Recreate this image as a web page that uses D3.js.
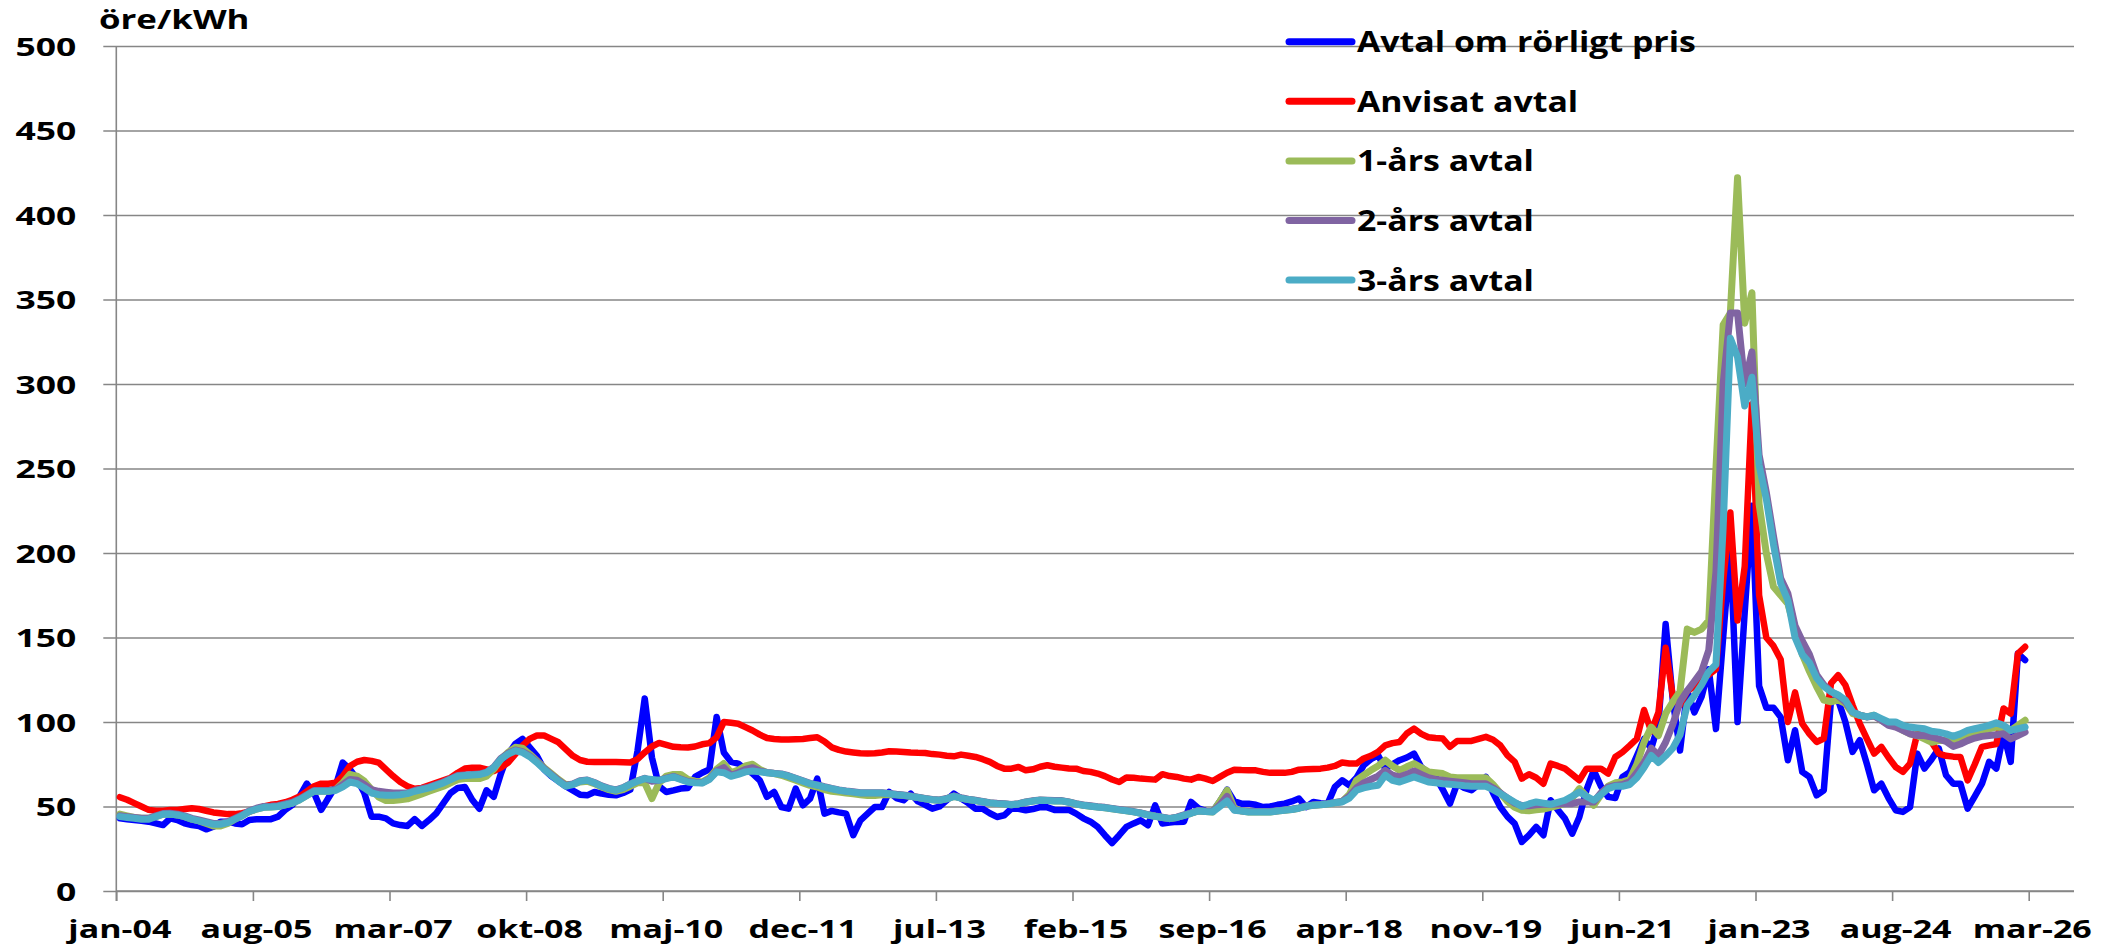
<!DOCTYPE html>
<html>
<head>
<meta charset="utf-8">
<script src="https://cdn.jsdelivr.net/npm/d3@7"></script>
<style>
  html, body { margin: 0; padding: 0; background: #ffffff; }
  svg { display: block; }
  text { font-family: "Open Sans", "DejaVu Sans", sans-serif; font-weight: 700; fill: #000; }
</style>
</head>
<body>
<svg id="chart" width="2114" height="950"></svg>
<script>
// Category tick labels (one every 19 months, starting jan-04)
const tickLabels = ["jan-04", "aug-05", "mar-07", "okt-08", "maj-10", "dec-11", "jul-13",
  "feb-15", "sep-16", "apr-18", "nov-19", "jun-21", "jan-23", "aug-24", "mar-26"];
const tickStep = 19;
const yTicks = [0, 50, 100, 150, 200, 250, 300, 350, 400, 450, 500];

const seriesNames = ["Avtal om rörligt pris", "Anvisat avtal", "1-års avtal", "2-års avtal", "3-års avtal"];
const seriesColors = ["#0000ff", "#ff0000", "#9bbb59", "#8064a2", "#4bacc6"];
const seriesWidths = [6.5, 6.5, 7, 7, 7];

// Monthly prices, öre/kWh, from jan-04 onwards
const rorligt = [
  43, 42.5, 42, 41.5, 41, 40, 39, 43, 42, 40,
  39, 38.5, 36.5, 38, 41, 41, 40, 39.5, 42, 42.5,
  42.5, 42.5, 44, 48, 51, 56, 63.5, 58, 48, 55,
  62, 76, 72, 66, 58, 44, 44, 43, 40, 39,
  38.5, 42.5, 38.5, 42, 46, 52, 58, 61, 61.5, 54,
  48.7, 59.6, 55.7, 69.5, 81, 87, 90, 85, 80, 72,
  68, 65, 62, 59.5, 57, 56.6, 58.6, 57.6, 57, 56.6,
  58, 60, 83, 113.9, 79, 62, 58.6, 59.5, 60.6, 61,
  67.5, 70, 72, 103, 82, 76.4, 75.4, 72, 69.5, 65.5,
  55.7, 58.6, 49.7, 48.7, 60.6, 50.7, 54.7, 66.5, 45.8, 47.4,
  46.5, 45.8, 33, 41.8, 45.8, 49.7, 49.7, 58.6, 55, 53.7,
  57.6, 53, 51, 48.7, 50, 53.7, 57.6, 54.7, 52, 48.7,
  48.7, 46, 43.8, 44.8, 48.7, 48.7, 47.8, 48.5, 49.7, 49.5,
  48, 48, 48, 45.8, 43, 41, 37.9, 33, 28.4, 33,
  37.9, 40, 41.8, 38.9, 50.7, 39.9, 40.5, 40.9, 41, 52.7,
  49, 47.4, 47, 53, 60, 53, 51.7, 51.7, 51, 49.7,
  50, 51, 51.7, 53, 54.7, 49.7, 52.7, 52, 51.7, 61.6,
  65.5, 62.6, 67, 74.4, 78, 80.3, 72.4, 75, 77.4, 79,
  81.3, 73.4, 70, 67.5, 60, 51.7, 63.5, 61, 59.6, 63,
  67.5, 58, 49.7, 44, 39.9, 29, 33, 37.9, 33, 53.7,
  48, 42.8, 33.9, 43.8, 60, 71.4, 62, 55.7, 55, 67.5,
  70.3, 80, 90, 84.5, 98.7, 158, 112.8, 83.1, 118.4, 105.7,
  115, 131.2, 95.8, 150, 203, 100, 165, 228, 121.3, 108.5,
  108.5, 102.9, 77.4, 95.1, 70.5, 67.5, 56.6, 59.6, 112.9, 112.9,
  100, 82.3, 89.2, 75, 59.6, 63.5, 55, 47.8, 46.8, 49.7,
  81.3, 72.4, 78, 84.3, 68.5, 63.5, 63.5, 48.7, 56, 63.5,
  76.4, 72.4, 93.2, 76.4, 140.5, 136.6
];

const anvisat = [
  55.5, 54, 52, 50, 48, 47.5, 47.5, 48, 48, 48.5,
  49, 48.5, 47.5, 46.5, 46, 45.5, 45.5, 46, 47, 48.5,
  50, 51, 51.5, 52.5, 54, 56, 59, 62, 63.5, 63.5,
  64, 68, 74, 76.5, 77.5, 77, 76, 72, 68, 64.5,
  62, 60.5, 61, 62.5, 64, 65.5, 67, 70, 72.5, 73,
  73, 72, 71, 73, 76, 81, 86, 90, 92, 92,
  90, 88, 84, 80, 77.5, 76.5, 76.4, 76.4, 76.4, 76.4,
  76.2, 76, 78, 82, 85.5, 87.6, 86.5, 85.3, 85, 84.9,
  85.5, 86.8, 87.5, 91, 100, 99.5, 99, 97, 95, 92.5,
  90.5, 90, 89.6, 89.6, 89.8, 90, 90.5, 91, 88.5, 85,
  83.5, 82.5, 82, 81.5, 81.3, 81.5, 82, 82.7, 82.5, 82.3,
  82, 81.8, 81.7, 81, 80.7, 80, 79.7, 80.7, 80, 79.3,
  78, 76.4, 74, 72.4, 72.4, 73.4, 71.4, 72, 73.5, 74.4,
  73.5, 73, 72.5, 72.4, 71, 70.5, 69.5, 68, 66, 64.5,
  67.1, 67, 66.5, 66.2, 65.9, 69.1, 68, 67.5, 66.5, 65.9,
  67.5, 66.5, 65.1, 67.5, 70, 71.8, 71.6, 71.5, 71.4, 70.5,
  69.9, 69.9, 69.9, 70.5, 71.8, 72, 72.2, 72.4, 73, 74,
  76, 75.5, 75.4, 78.4, 80, 82.3, 86.2, 87.5, 88.2, 93.2,
  96.1, 93, 91, 90.5, 90.2, 85.3, 88.8, 88.8, 88.8, 90,
  91.2, 89.5, 86.2, 80.3, 76.4, 66.5, 69.1, 67, 63.5, 75.4,
  74, 72.4, 69, 65.5, 72.4, 72.4, 72.4, 69.5, 79.3, 82.2,
  86, 90.1, 107.1, 94.4, 105.7, 143.9, 115, 109.9, 118.4, 121,
  125.5, 128, 131.2, 183.5, 224, 160, 192, 288, 175, 150,
  145, 137, 100, 117.5, 99, 93, 88.2, 90.2, 122.8, 127.7,
  121.8, 110, 99.1, 90, 81.3, 85.3, 79, 73.4, 70.5, 75.4,
  93.2, 94.1, 88, 81.3, 80, 79.5, 79.3, 65.5, 75, 85.3,
  86.2, 87, 108, 105, 140.5, 144.5
];

const ettAr = [
  45.5, 44.5, 43.5, 43, 43, 44, 45.4, 45.5, 45, 44,
  42.5, 41.5, 40, 38.5, 38.5, 40, 42.5, 44.5, 47, 48.5,
  49.5, 49.7, 50, 51, 52, 54, 56.5, 59, 59, 59,
  60, 64, 69, 68, 65, 60, 55.5, 53.5, 53.5, 54,
  54.5, 56, 57.5, 59, 60.5, 62, 64, 66, 66.5, 66.5,
  66.5, 68, 72, 78, 82, 85, 84.5, 81, 77, 73,
  69.5, 66, 63, 63, 64.5, 65, 63.5, 61.5, 60, 59,
  60, 62, 64, 64, 54.7, 64, 68, 69, 69, 66,
  65, 64.5, 67, 72, 75.4, 70, 71.5, 74, 75, 72,
  70, 69.5, 68.5, 67, 65.5, 64, 62.5, 61.5, 60, 59,
  58.5, 58, 57.5, 57, 56.5, 56.5, 57, 57, 57, 56.5,
  56, 55.3, 54.6, 54, 53.7, 54.5, 56, 55, 54.1, 53.5,
  52.8, 52.1, 51.7, 51.5, 51, 51.5, 52.5, 53.2, 53.7, 53.5,
  53.3, 53.3, 52.5, 51.5, 50.7, 50.2, 49.7, 49.3, 48.7, 48,
  47.5, 46.8, 46, 45, 44.2, 43.5, 42.8, 43.5, 44.8, 46,
  47.4, 47, 46.8, 53, 59.6, 49, 47.3, 46.8, 46.8, 46.8,
  46.8, 47.3, 47.8, 48.2, 49, 50.1, 50.7, 51, 51.5, 52.2,
  53, 57, 65.5, 68.5, 71.4, 74, 77.4, 74, 71.4, 73.5,
  75.4, 73, 70.5, 70, 69.5, 67.5, 67, 67, 67, 67,
  67, 63, 58, 53, 49.5, 47.8, 47.5, 48, 48.5, 49.5,
  50.5, 51.7, 55, 60.6, 56, 50.7, 57, 62, 64, 64.5,
  66, 75, 88, 97, 92, 105, 112, 118, 155, 153,
  155, 160, 250, 335, 342, 422, 336, 354, 229, 200,
  180, 175, 170, 155, 140, 130, 121, 113, 112, 113,
  111, 105, 104, 103, 104, 101, 99, 98, 95, 93,
  92, 90, 88, 89, 89, 88, 90, 92, 93.5, 95,
  96, 97, 96.5, 95, 98, 101
];

const tvaAr = [
  44.5, 44, 43.5, 43, 43, 44.5, 45.8, 46, 45.5, 44.5,
  43, 42, 41, 40, 40, 41, 43, 45, 47.5, 49,
  50, 50.2, 50.5, 51.5, 52.5, 54.5, 57, 59.5, 59.5, 59.5,
  60, 63, 66, 65.5, 63, 60, 59, 58.5, 58, 58,
  58, 59.5, 60.5, 61.5, 63, 64.5, 66.5, 68.3, 68.6, 68.9,
  69.2, 70.3, 73.3, 78.5, 81.5, 83.5, 82.5, 80, 76.5, 72.5,
  69, 65.5, 62.5, 63.3, 65.2, 65.7, 64.2, 62.2, 60.7, 59.8,
  61.2, 63.4, 65.2, 66.7, 65, 65.5, 66.8, 67.8, 66.3, 64.8,
  64.3, 64.1, 66.3, 71, 73, 68.5, 70, 72, 73, 71,
  70.2, 69.7, 69.3, 68.2, 66.7, 65.2, 63.7, 62.8, 61.7, 60.7,
  59.8, 59.2, 58.7, 58.2, 58.2, 58.2, 58.2, 57.7, 57.2, 56.8,
  56.2, 55.5, 54.8, 54.2, 53.9, 54.7, 56.2, 55.2, 54.3, 53.7,
  53, 52.3, 51.9, 51.7, 51.2, 51.7, 52.7, 53.4, 53.9, 53.7,
  53.5, 53.5, 52.7, 51.7, 50.9, 50.4, 49.9, 49.5, 48.9, 48.2,
  47.7, 47, 46.2, 45.2, 44.4, 43.7, 43, 43.7, 45, 46.2,
  47.6, 47.2, 47, 51, 56, 48, 47.5, 47, 47, 47,
  47, 47.5, 48, 48.4, 49.2, 50.3, 50.9, 51.2, 51.7, 52.4,
  53, 56, 61, 64, 66, 68, 71.4, 68.5, 67.5, 69,
  71, 69, 67, 66, 65.5, 65, 64.5, 64, 63.5, 63.5,
  63.5, 61, 58, 55, 52, 50.5, 50.5, 51, 51.3, 51.3,
  51.5, 51.7, 51.7, 52.7, 52.7, 52.7, 58, 61.5, 62.5, 63,
  64.6, 70, 76, 84.5, 80.2, 88, 98.6, 112, 118.4, 124,
  129.8, 142.5, 189, 300, 342, 342, 300, 319, 258, 236,
  210, 185, 176, 157, 148, 140, 128, 122, 118, 115.5,
  112, 106, 104, 103, 103.5, 101, 98, 97, 95, 93,
  92, 92, 91, 90, 88.5, 85.5, 87, 89, 90.5, 91.5,
  92, 92.5, 93, 90, 92, 94
];

const treAr = [
  44, 43.5, 43, 42.5, 42.5, 44, 45.4, 45.5, 45, 44,
  42.5, 41.5, 40.5, 39.5, 39.5, 40.5, 42.5, 44.5, 47, 48.5,
  49.5, 49.7, 50, 51, 52, 54, 56.5, 59, 59, 59,
  59.5, 61.6, 64.5, 63.5, 61, 58, 57, 56.6, 56.6, 57,
  57.6, 59, 60, 61, 62.5, 64, 66, 67.9, 68.3, 68.6,
  68.9, 70, 73, 78, 81, 83, 82, 79.5, 76, 72,
  68.5, 65, 62, 63, 65, 65.5, 64, 62, 60.5, 59.6,
  61, 63.2, 65, 66.5, 66, 65.5, 66.5, 67.5, 66, 64.5,
  64, 63.9, 66, 70.5, 70, 67.9, 69, 70.5, 71, 70.5,
  70, 69.5, 69.1, 68, 66.5, 65, 63.5, 62.6, 61.5, 60.5,
  59.6, 59, 58.5, 58, 58, 58, 58, 57.5, 57, 56.6,
  56, 55.3, 54.6, 54, 53.7, 54.5, 56, 55, 54.1, 53.5,
  52.8, 52.1, 51.7, 51.5, 51, 51.5, 52.5, 53.2, 53.7, 53.5,
  53.3, 53.3, 52.5, 51.5, 50.7, 50.2, 49.7, 49.3, 48.7, 48,
  47.5, 46.8, 46, 45, 44.2, 43.5, 42.8, 43.5, 44.8, 46,
  47.4, 47, 46.8, 50, 53.3, 47.8, 47.3, 46.8, 46.8, 46.8,
  46.8, 47.3, 47.8, 48.2, 49, 50.1, 50.7, 51, 51.5, 52.2,
  52.7, 55, 59.6, 61, 62, 62.6, 68.5, 65.5, 64.5, 66,
  67.5, 66, 64.5, 64, 63.5, 63.2, 62.8, 62.3, 62, 62,
  62, 60, 57.6, 55, 52.5, 50.1, 51.5, 52.7, 52, 51.3,
  52.5, 53.7, 56, 58.6, 56, 53.7, 57, 60.6, 62, 62,
  63, 67, 73.1, 80.2, 76, 80, 84.5, 92.4, 110, 115.6,
  122, 129.8, 134, 215, 327, 316, 287, 304, 252, 232,
  205, 182, 172, 150, 140, 135, 126, 121, 118, 116,
  113, 106, 104, 103, 104, 102, 100, 100, 98, 97,
  96.5, 96, 94.5, 94, 93, 91.5, 93, 95, 96, 97,
  98, 99.5, 98, 95, 96, 97
];

const series = [rorligt, anvisat, ettAr, tvaAr, treAr];

// ---- layout ----
const svg = d3.select("#chart");
const plotLeft = 116.3, plotRight = 2074, plotTop = 46, plotBottom = 891;
const monthsOnAxis = 272.3;

const x = d3.scaleLinear().domain([0, monthsOnAxis]).range([plotLeft, plotRight]);
const y = d3.scaleLinear().domain([0, 500]).range([plotBottom, plotTop]);

const gridColor = "#868686";

// horizontal gridlines with a short outward tick on the left
const yAxis = d3.axisLeft(y).tickValues(yTicks).tickSize(0).tickFormat("");
const gy = svg.append("g").attr("transform", `translate(${plotLeft},0)`).call(yAxis);
gy.select(".domain").remove();
gy.selectAll(".tick").append("line")
  .attr("x1", -13).attr("x2", plotRight - plotLeft)
  .attr("stroke", gridColor).attr("stroke-width", 1.6);

// y tick labels
const yLabelScale = 1.42;
gy.selectAll(".tick").append("text")
  .attr("transform", `translate(-40,0) scale(${yLabelScale},1)`)
  .attr("text-anchor", "end")
  .attr("dy", "0.36em")
  .style("font-size", "25px")
  .text(d => d);

// vertical axis line
svg.append("line")
  .attr("x1", plotLeft).attr("x2", plotLeft)
  .attr("y1", plotTop).attr("y2", plotBottom + 10)
  .attr("stroke", gridColor).attr("stroke-width", 1.6);

// category axis
const tickValues = tickLabels.map((_, i) => i * tickStep);
const xAxis = d3.axisBottom(x).tickValues(tickValues).tickSize(10)
  .tickFormat((d, i) => tickLabels[i]);
const gx = svg.append("g").attr("transform", `translate(0,${plotBottom})`).call(xAxis);
gx.select(".domain").attr("stroke", gridColor).attr("stroke-width", 1.6)
  .attr("d", `M${plotLeft},0H${plotRight}`);
gx.selectAll(".tick line").attr("stroke", gridColor).attr("stroke-width", 1.6);
const xLabelScale = 1.36;
gx.selectAll(".tick text")
  .attr("y", 0).attr("dy", 0)
  .attr("transform", `translate(3,47) scale(${xLabelScale},1)`)
  .attr("fill", "#000")
  .style("font-size", "25px")
  .style("font-family", '"Open Sans", sans-serif')
  .style("font-weight", 700);

// unit label
svg.append("text")
  .attr("transform", `translate(99,29) scale(1.34,1)`)
  .style("font-size", "26px")
  .text("öre/kWh");

// series lines, drawn in legend order so later series sit on top
const line = d3.line()
  .x((d, i) => x(i + 0.5))
  .y(d => y(d));

svg.append("g").selectAll("path")
  .data(series)
  .join("path")
  .attr("d", d => line(d))
  .attr("fill", "none")
  .attr("stroke", (d, i) => seriesColors[i])
  .attr("stroke-width", (d, i) => seriesWidths[i])
  .attr("stroke-linejoin", "round")
  .attr("stroke-linecap", "round");

// legend
const legend = svg.append("g").attr("transform", "translate(1289,41.7)");
const legendGap = 59.6;
const items = legend.selectAll("g").data(seriesNames).join("g")
  .attr("transform", (d, i) => `translate(0,${i * legendGap})`);
items.append("line")
  .attr("x1", 0).attr("x2", 63)
  .attr("stroke", (d, i) => seriesColors[i])
  .attr("stroke-width", 7)
  .attr("stroke-linecap", "round");
items.append("text")
  .attr("transform", "translate(68,10.5) scale(1.21,1)")
  .style("font-size", "28px")
  .text(d => d);
</script>
</body>
</html>
